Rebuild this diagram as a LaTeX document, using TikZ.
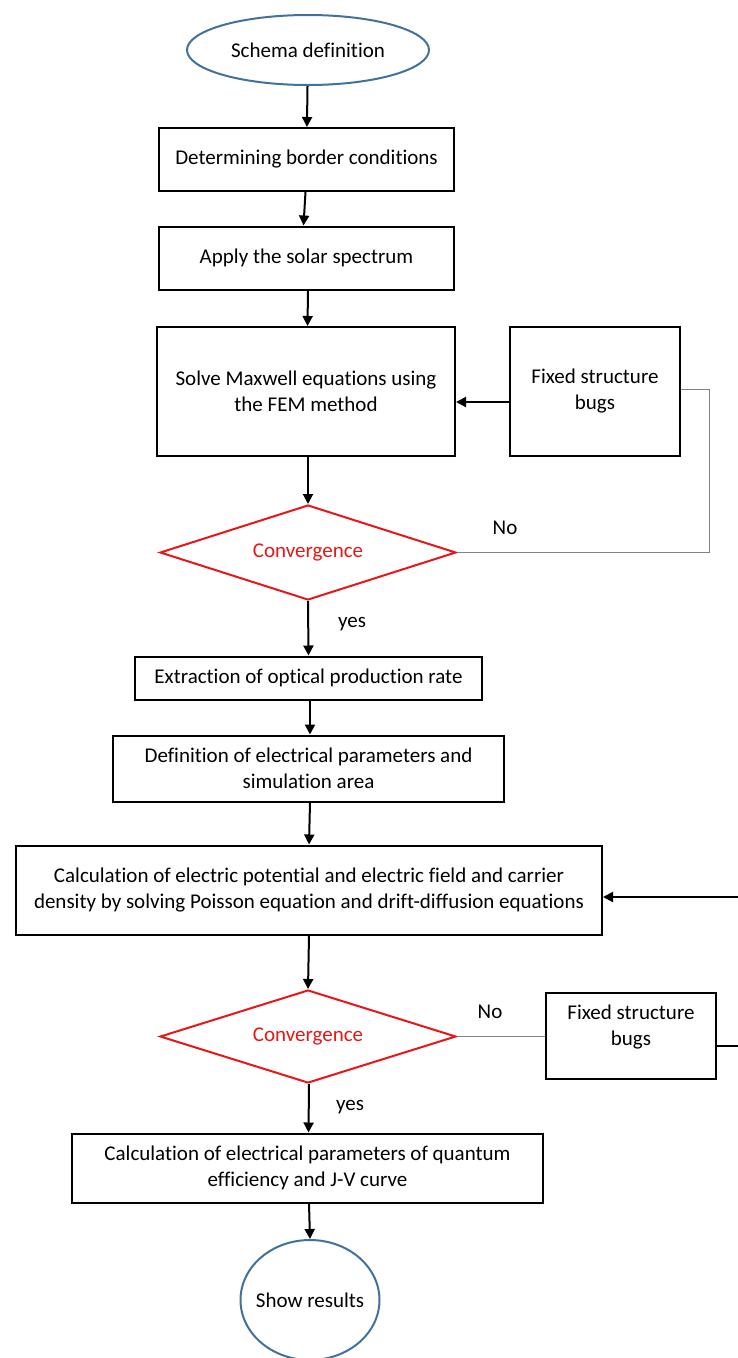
\documentclass[tikz,border=0pt]{standalone}
\usepackage{fontspec}
\setmainfont{Carlito}[Ligatures={NoCommon}]
\usetikzlibrary{shapes.geometric,arrows.meta}
\definecolor{oblue}{RGB}{65,113,156}
\definecolor{ored}{RGB}{232,22,22}
\definecolor{ogray}{RGB}{130,130,130}
\tikzset{
  txt/.style={font=\fontsize{21}{26}\selectfont},
  box/.style={txt, draw=black, line width=2pt, fill=white, align=center, inner sep=0pt},
  oval/.style={txt, draw=oblue, line width=2pt, fill=white, ellipse, inner sep=0pt},
  cond/.style={txt, draw=ored, text=ored, line width=2pt, diamond, shape aspect=3.1, inner sep=0pt},
  arr/.style={draw=black, line width=2pt, -{Triangle[length=10pt,width=10pt]}},
  thin/.style={draw=ogray, line width=1pt},
  lab/.style={txt, inner sep=0pt}
}
\begin{document}
\begin{tikzpicture}[x=1pt,y=-1pt]
\useasboundingbox (0,0) rectangle (738,1358);
\node[oval, minimum width=242pt, minimum height=70pt] (start) at (308,50) {Schema definition};
\node[box, minimum width=295pt, minimum height=63pt] (b1) at (306.5,159.5) {Determining border conditions};
\node[box, minimum width=295pt, minimum height=63pt] (b2) at (306.5,258) {Apply the solar spectrum};
\node[box, minimum width=298pt, minimum height=129pt] (b3) at (306,391.5) {Solve Maxwell equations using\\the FEM method};
\node[box, minimum width=170pt, minimum height=129pt] (f1) at (595,391.5) {Fixed structure\\bugs};
\node[cond, minimum width=296pt, minimum height=95pt] (d1) at (308,552.5) {Convergence};
\node[lab] (no1) at (505,528) {No};
\node[lab] (yes1) at (352,624) {yes};
\node[box, minimum width=347pt, minimum height=43pt] (b4) at (308.5,678) {Extraction of optical production rate};
\node[box, minimum width=391pt, minimum height=66pt] (b5) at (308.5,768.5) {Definition of electrical parameters and\\simulation area};
\node[box, minimum width=586pt, minimum height=89pt] (b6) at (309,890) {Calculation of electric potential and electric field and carrier\\density by solving Poisson equation and drift-diffusion equations};
\node[cond, minimum width=296pt, minimum height=93pt] (d2) at (308,1036.5) {Convergence};
\node[lab] (no2) at (490,1012) {No};
\node[box, minimum width=170pt, minimum height=86pt, text depth=21pt] (f2) at (631,1036) {Fixed structure\\bugs};
\node[lab] (yes2) at (350,1107) {yes};
\node[box, minimum width=471pt, minimum height=69pt] (b7) at (307.5,1168) {Calculation of electrical parameters of quantum\\efficiency and J-V curve};
\node[oval, inner xsep=-10pt, minimum width=139pt, minimum height=120pt] (end) at (310,1300) {Show results};

\coordinate (r1) at (709,389);
\coordinate (r2) at (745,1046);
\coordinate (r3) at (745,897);

\draw[arr] (start) -- (b1);
\draw[arr] ([xshift=-1pt]b1.south) -- ([xshift=-3pt]b2.north);
\draw[arr] ([xshift=1.5pt]b2.south) -- ([xshift=1.5pt]b3.north);
\draw[arr] ([xshift=2pt]b3.south) -- (d1.north);
\draw[arr] ([yshift=-10.5pt]f1.west) -- ([yshift=-10.5pt]b3.east);
\draw[thin] (f1.east |- r1) -- (r1) |- (d1.east);
\draw[arr] (d1.south) -- (b4.north);
\draw[arr] ([xshift=1.5pt]b4.south) -- ([xshift=1.5pt]b5.north);
\draw[arr] ([xshift=1.5pt]b5.south) -- (b6.north);
\draw[arr] (b6.south) -- (d2.north);
\draw[thin] (d2.east) -- (f2.west |- d2.east);
\draw[arr] (f2.east |- r2) -- (r2) -- (r3) -- (b6.east |- r3);
\draw[arr] ([xshift=1pt]d2.south) -- ([xshift=1pt]b7.north);
\draw[arr] ([xshift=1.5pt]b7.south) -- (end.north);
\end{tikzpicture}
\end{document}
